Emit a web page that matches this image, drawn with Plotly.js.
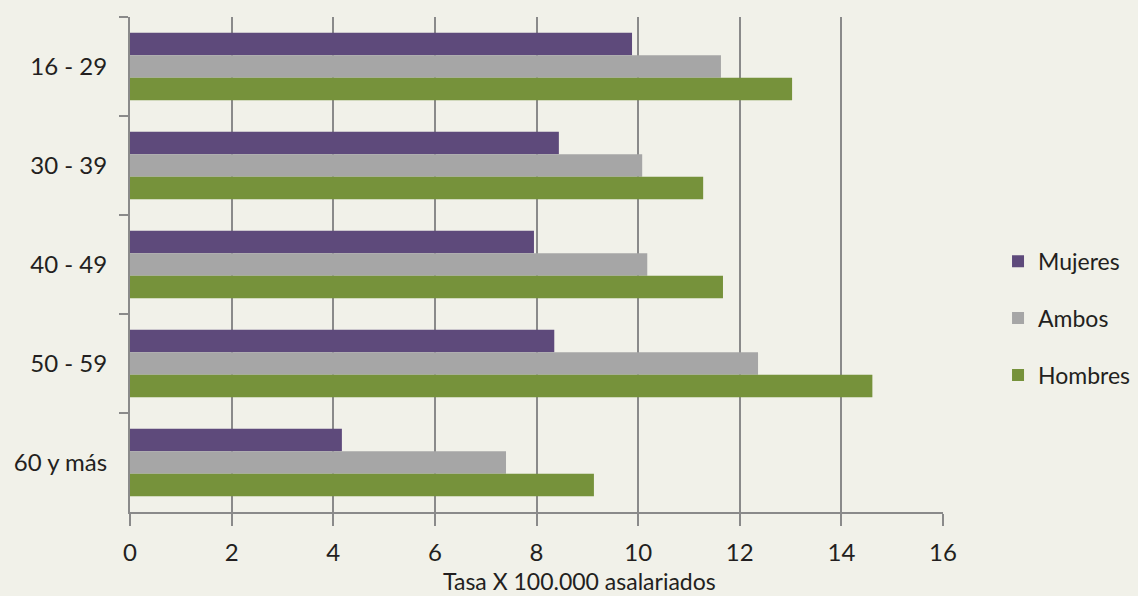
<!DOCTYPE html>
<html>
<head>
<meta charset="utf-8">
<script src="https://cdn.plot.ly/plotly-3.0.1.min.js"></script>
<style>
  html, body { margin: 0; padding: 0; background: #f1f1e9; }
  #chart { width: 1138px; height: 596px; }
</style>
</head>
<body>
<div id="chart"></div>
<script>
// Data
const categories = ["16 - 29", "30 - 39", "40 - 49", "50 - 59", "60 y más"];
const mujeres = [9.88, 8.44, 7.95, 8.35, 4.17];
const ambos   = [11.63, 10.08, 10.18, 12.36, 7.40];
const hombres = [13.03, 11.28, 11.67, 14.61, 9.13];
const seriesNames = ["Mujeres", "Ambos", "Hombres"];
const xTicks = [0, 2, 4, 6, 8, 10, 12, 14, 16];
const xTitle = "Tasa X 100.000 asalariados";

const colors = ["#5e4a7b", "#a6a6a6", "#76923b"];
const FONT = "Lato, 'Open Sans', sans-serif";
const TXT = "#231f20";

const seriesValues = [mujeres, ambos, hombres];
const traces = seriesNames.map((name, i) => ({
  type: "bar",
  orientation: "h",
  name: name,
  legendgroup: name,
  y: categories,
  x: seriesValues[i],
  marker: { color: colors[i], line: { width: 0 } },
  hoverinfo: "x+name"
}));

const layout = {
  width: 1138,
  height: 596,
  paper_bgcolor: "#f1f1e9",
  plot_bgcolor: "#f1f1e9",
  margin: { l: 130, r: 195, t: 17, b: 84, pad: 0 },
  barmode: "group",
  bargap: 0.316,
  bargroupgap: 0,
  font: { family: FONT, size: 24, color: TXT },
  showlegend: true,
  legend: {
    xref: "container", yref: "container",
    x: 0.877, y: 0.466, xanchor: "left", yanchor: "middle",
    bgcolor: "rgba(0,0,0,0)",
    font: { family: FONT, size: 23, color: TXT },
    traceorder: "grouped",
    tracegroupgap: 24
  },
  xaxis: {
    range: [0, 16],
    tickvals: xTicks,
    ticktext: xTicks.map(String),
    showgrid: true,
    gridcolor: "#8a8a8a",
    gridwidth: 2,
    zeroline: false,
    showline: true,
    linecolor: "#8a8a8a",
    linewidth: 2,
    ticks: "outside",
    ticklen: 12,
    tickwidth: 2,
    tickcolor: "#8a8a8a",
    ticklabelstandoff: 6,
    tickfont: { family: FONT, size: 24, color: TXT },
    fixedrange: true
  },
  yaxis: {
    type: "category",
    autorange: "reversed",
    showgrid: false,
    zeroline: false,
    showline: true,
    linecolor: "#8a8a8a",
    linewidth: 2,
    ticks: "outside",
    tickson: "boundaries",
    ticklen: 9,
    tickwidth: 2,
    tickcolor: "#8a8a8a",
    ticklabelstandoff: 16,
    tickfont: { family: FONT, size: 24, color: TXT },
    fixedrange: true
  },
  annotations: [{
    text: xTitle,
    xref: "paper", yref: "paper",
    x: 0.5535, y: (512 - 597) / 495,
    xanchor: "center", yanchor: "bottom",
    showarrow: false,
    font: { family: FONT, size: 23, color: TXT }
  }]
};

Plotly.newPlot("chart", traces, layout, { displayModeBar: false });
</script>
</body>
</html>
